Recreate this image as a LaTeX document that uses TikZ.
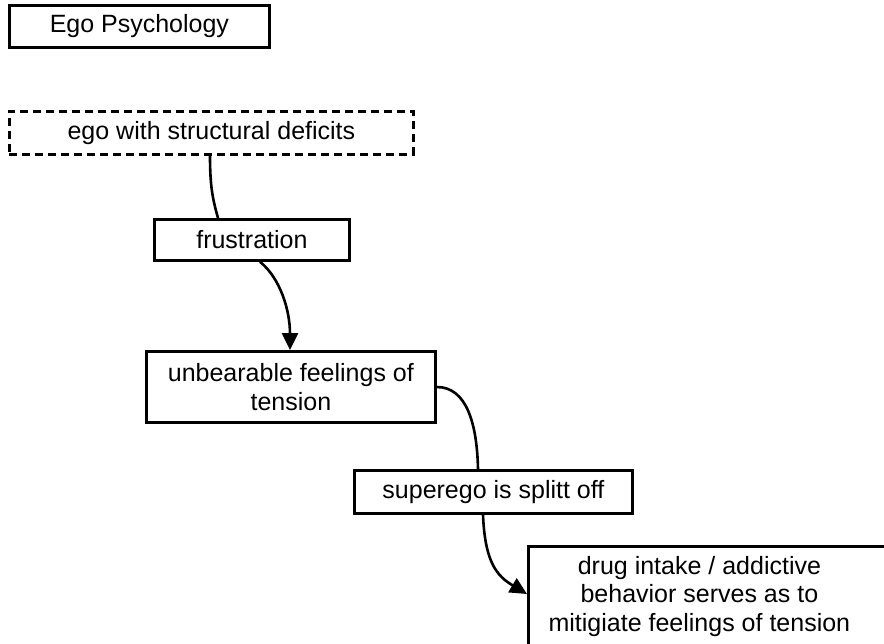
\documentclass[tikz,border=0pt]{standalone}
\usepackage{fontspec}
\setmainfont{Liberation Sans}
\usetikzlibrary{calc,arrows.meta}

\tikzset{
  box/.style={draw, line width=2.8pt, inner sep=0pt, anchor=north west,
    align=center, font=\fontsize{25}{28.5}\selectfont},
  dashbox/.style={box, dash pattern=on 8pt off 5pt},
  link/.style={line width=2.6pt},
  arrowlink/.style={link, -{Triangle[length=17pt,width=16pt]}},
}

\begin{document}
\begin{tikzpicture}[x=1pt,y=-1pt]
\useasboundingbox (0,0) rectangle (884,643);
\clip (0,0) rectangle (884,643);

% boxes
\node[box, minimum width=260, minimum height=42] (title) at (8,4) {Ego Psychology};
\node[dashbox, minimum width=404, minimum height=43] (deficit) at (8,110) {ego with structural deficits};
\node[box, minimum width=195, minimum height=41] (frust) at (153,218) {frustration};
\node[box, minimum width=289, minimum height=71] (tension) at (145,350) {unbearable feelings of\\tension};
\node[box, minimum width=278, minimum height=43] (superego) at (353,469) {superego is splitt off};
\node[box, minimum width=360, minimum height=100] (drug) at (527,545) {};
\node[align=center, inner sep=0pt, font=\fontsize{25}{28.5}\selectfont] (drugtext)
  at ($(drug.center)+(-9,0)$) {drug intake / addictive\\behavior serves as to\\mitigiate feelings of tension};

% connectors
\draw[link] ($(deficit.south west)+(202,0)$)
  .. controls +(0,32) and +(-5,-18) .. ($(frust.north west)+(65,0)$);
\draw[arrowlink] ($(frust.south west)+(107,0)$)
  .. controls +(20,16) and +(0,-40) .. ($(tension.north west)+(145,0)$);
\draw[link] ($(tension.north east)+(0,37)$)
  .. controls +(30,0) and +(-1,-45) .. ($(superego.north west)+(125,0)$);
\draw[arrowlink] ($(superego.south west)+(130,0)$)
  .. controls +(2,48) and +(-30,-18) .. ($(drug.north west)+(0,49)$);
\end{tikzpicture}
\end{document}
